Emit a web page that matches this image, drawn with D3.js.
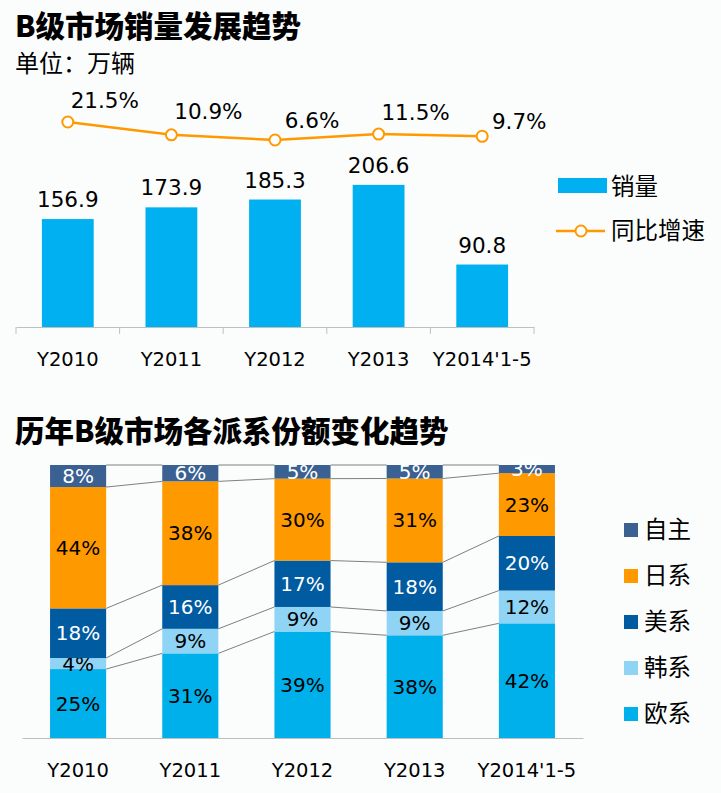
<!DOCTYPE html>
<html>
<head>
<meta charset="utf-8">
<script src="https://cdn.jsdelivr.net/npm/d3@7"></script>
<style>
  body { margin: 0; background: #fbfdfd; }
  svg { display: block; font-family: "DejaVu Sans", "Noto Sans CJK SC", sans-serif; }
  .cjk { font-family: "Noto Sans CJK SC", sans-serif; }
</style>
</head>
<body>
<svg width="721" height="793"></svg>
<script>
// top chart data
const years   = ["Y2010", "Y2011", "Y2012", "Y2013", "Y2014'1-5"];
const sales   = [156.9, 173.9, 185.3, 206.6, 90.8];
const growth  = [21.5, 10.9, 6.6, 11.5, 9.7];

// bottom chart data (share %, stacked bottom -> top)
const groups  = ["欧系", "韩系", "美系", "日系", "自主"];
const euro    = [25, 31, 39, 38, 42];
const korea   = [4, 9, 9, 9, 12];
const usa     = [18, 16, 17, 18, 20];
const japan   = [44, 38, 30, 31, 23];
const local   = [8, 6, 5, 5, 3];
const colors  = ["#00b0eb", "#8fd3f5", "#005ba1", "#ff9900", "#3a6192"];
const txtCol  = ["#000", "#000", "#fff", "#000", "#fff"];

const svg = d3.select("svg");
const BLUE = "#00b0f0", ORANGE = "#ff9900";

// ---- titles ----
svg.append("text").attr("class", "cjk").attr("x", 15).attr("y", 37)
   .attr("font-size", 29.5).attr("font-weight", "900").text("B级市场销量发展趋势");
svg.append("text").attr("class", "cjk").attr("x", 15).attr("y", 72)
   .attr("font-size", 24).text("单位：万辆");
svg.append("text").attr("class", "cjk").attr("x", 15).attr("y", 442)
   .attr("font-size", 29.5).attr("font-weight", "900").text("历年B级市场各派系份额变化趋势");

// ---- top chart ----
const x1 = d3.scaleBand().domain(years).range([16, 534]).paddingInner(0.5).paddingOuter(0.25);
const y1 = d3.scaleLinear().domain([0, 250]).range([327, 155]);
const y1r = d3.scaleLinear().domain([0, 25]).range([148, 117.8]);

const gx1 = svg.append("g").attr("transform", "translate(0,327)")
  .call(d3.axisBottom(x1).tickSize(0).tickPadding(0).tickFormat(""));
gx1.select(".domain").attr("stroke", "#bfbfbf");
// category tick marks between bands
const step1 = x1.step();
svg.append("g").selectAll("line")
  .data(d3.range(years.length + 1))
  .join("line")
    .attr("x1", i => 16 + i * step1).attr("x2", i => 16 + i * step1)
    .attr("y1", 327).attr("y2", 334)
    .attr("stroke", "#bfbfbf");

svg.append("g").selectAll("text")
  .data(years)
  .join("text")
    .attr("x", d => x1(d) + x1.bandwidth() / 2)
    .attr("y", 366)
    .attr("text-anchor", "middle")
    .attr("font-size", 19.5)
    .text(d => d);

svg.append("g").selectAll("rect")
  .data(sales)
  .join("rect")
    .attr("x", (d, i) => x1(years[i]))
    .attr("y", d => y1(d))
    .attr("width", x1.bandwidth())
    .attr("height", d => y1(0) - y1(d))
    .attr("fill", BLUE);

svg.append("g").selectAll("text")
  .data(sales)
  .join("text")
    .attr("x", (d, i) => x1(years[i]) + x1.bandwidth() / 2)
    .attr("y", d => y1(d) - 12)
    .attr("text-anchor", "middle")
    .attr("font-size", 21.5)
    .text(d => d.toFixed(1));

const cx = (d, i) => x1(years[i]) + x1.bandwidth() / 2;
const line = d3.line().x(cx).y(d => y1r(d));
svg.append("path").datum(growth)
   .attr("fill", "none").attr("stroke", ORANGE).attr("stroke-width", 2.5)
   .attr("d", line);
svg.append("g").selectAll("circle")
  .data(growth)
  .join("circle")
    .attr("cx", cx).attr("cy", d => y1r(d)).attr("r", 5.5)
    .attr("fill", "#fff").attr("stroke", ORANGE).attr("stroke-width", 2);
const labDy = [-14, -16, -12, -14, -7];
svg.append("g").selectAll("text")
  .data(growth)
  .join("text")
    .attr("x", (d, i) => cx(d, i) + 37)
    .attr("y", (d, i) => y1r(d) + labDy[i])
    .attr("text-anchor", "middle")
    .attr("font-size", 21.5)
    .text(d => d.toFixed(1) + "%");

// top legend
svg.append("rect").attr("x", 558).attr("y", 178).attr("width", 49).attr("height", 15).attr("fill", BLUE);
svg.append("text").attr("class", "cjk").attr("x", 611).attr("y", 195).attr("font-size", 23.5).text("销量");
svg.append("line").attr("x1", 556).attr("x2", 605).attr("y1", 231).attr("y2", 231)
   .attr("stroke", ORANGE).attr("stroke-width", 2.5);
svg.append("circle").attr("cx", 581).attr("cy", 231).attr("r", 5.5)
   .attr("fill", "#fff").attr("stroke", ORANGE).attr("stroke-width", 2);
svg.append("text").attr("class", "cjk").attr("x", 611).attr("y", 239).attr("font-size", 23.5).text("同比增速");

// ---- bottom chart (100% stacked) ----
const rows = years.map((y, i) => {
  const r = { year: y };
  const vals = [euro[i], korea[i], usa[i], japan[i], local[i]];
  const tot = d3.sum(vals);
  groups.forEach((g, k) => { r[g] = vals[k]; r[g + "_n"] = vals[k] / tot; });
  return r;
});
const stack = d3.stack().keys(groups.map(g => g + "_n"))(rows);

const x2 = d3.scaleBand().domain(years).range([22, 583]).paddingInner(0.5).paddingOuter(0.25);
const y2 = d3.scaleLinear().domain([0, 1]).range([738, 465]);

// series lines
const sl = svg.append("g").attr("stroke", "#7f7f7f").attr("stroke-width", 1);
stack.forEach(s => {
  for (let i = 0; i < years.length - 1; i++) {
    sl.append("line")
      .attr("x1", x2(years[i]) + x2.bandwidth()).attr("y1", y2(s[i][1]))
      .attr("x2", x2(years[i + 1])).attr("y2", y2(s[i + 1][1]));
  }
});

stack.forEach((s, k) => {
  const g = svg.append("g");
  g.selectAll("rect")
    .data(s)
    .join("rect")
      .attr("x", d => x2(d.data.year))
      .attr("y", d => y2(d[1]))
      .attr("width", x2.bandwidth())
      .attr("height", d => y2(d[0]) - y2(d[1]))
      .attr("fill", colors[k]);
  g.selectAll("text")
    .data(s)
    .join("text")
      .attr("x", d => x2(d.data.year) + x2.bandwidth() / 2)
      .attr("y", d => (y2(d[0]) + y2(d[1])) / 2 + 7)
      .attr("text-anchor", "middle")
      .attr("font-size", 20)
      .attr("fill", txtCol[k])
      .text(d => d.data[groups[k]] + "%");
});

const gx2 = svg.append("g").attr("transform", "translate(0,738)")
  .call(d3.axisBottom(x2).tickSize(0).tickFormat(""));
gx2.select(".domain").attr("stroke", "#bfbfbf");
svg.append("g").selectAll("text")
  .data(years)
  .join("text")
    .attr("x", d => x2(d) + x2.bandwidth() / 2)
    .attr("y", 777)
    .attr("text-anchor", "middle")
    .attr("font-size", 19.5)
    .text(d => d);

// bottom legend (top entry = last series)
const leg = svg.append("g").selectAll("g")
  .data(groups.slice().reverse())
  .join("g")
    .attr("transform", (d, i) => `translate(624,${523 + i * 46})`);
leg.append("rect").attr("width", 14).attr("height", 14)
   .attr("fill", d => colors[groups.indexOf(d)]);
leg.append("text").attr("class", "cjk").attr("x", 20).attr("y", 15)
   .attr("font-size", 23.5).text(d => d);
</script>
</body>
</html>
